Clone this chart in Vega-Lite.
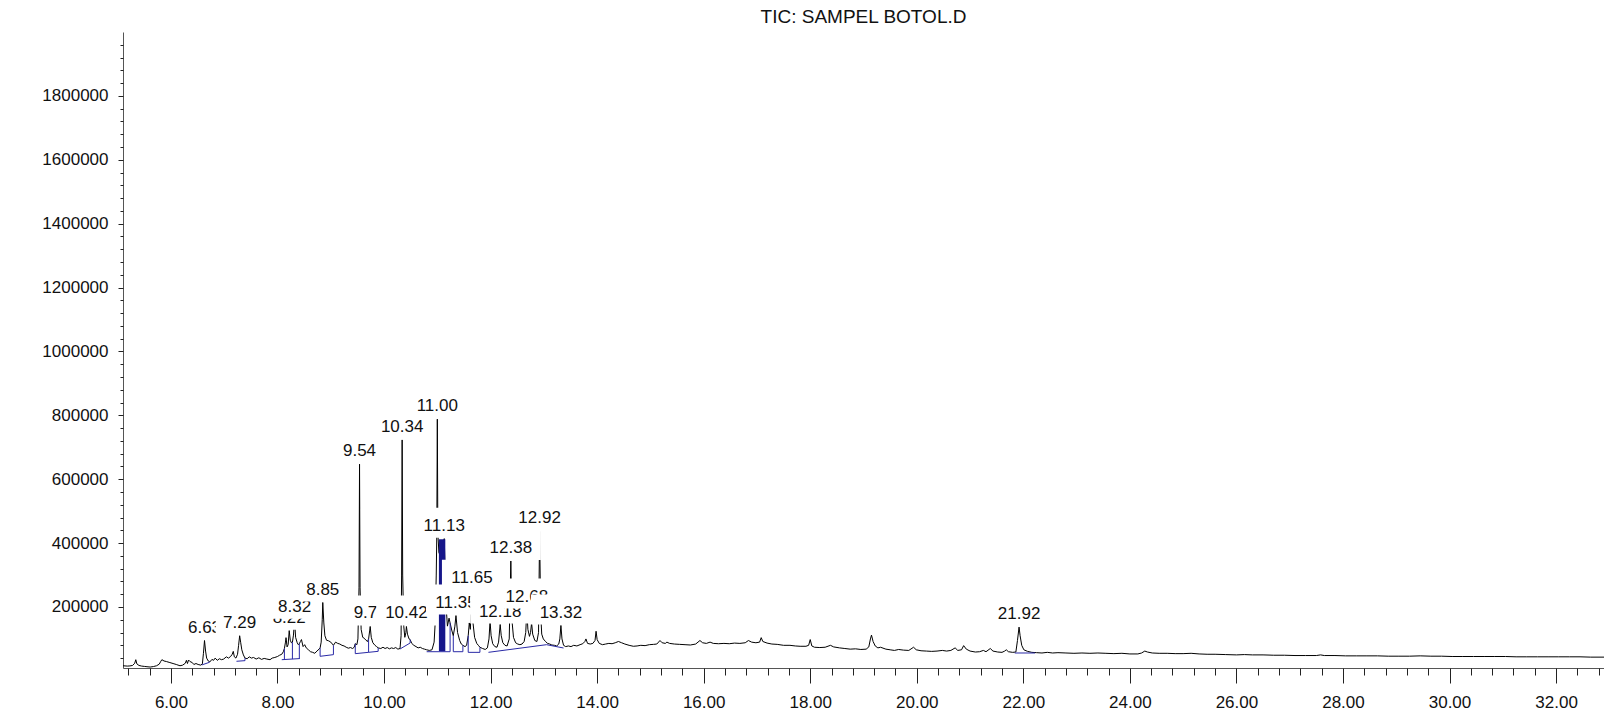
{
"$schema": "https://vega.github.io/schema/vega-lite/v6.json",
"width": 1481, "height": 636,
"autosize": {"type": "none"},
"padding": {"left": 123, "top": 32, "right": 0, "bottom": 49},
"background": "white",
"title": {"text": "TIC: SAMPEL BOTOL.D", "fontSize": 19, "font": "Liberation Sans", "fontWeight": "normal", "color": "#111", "anchor": "middle", "frame": "group", "offset": 9, "baseline": "alphabetic", "dy": 19},
"config": {"view": {"stroke": null}, "axis": {"grid": false}},
"datasets": {
"trace": [
{"t":5.10,"v":16000},{"t":5.18,"v":15000},{"t":5.23,"v":15500},{"t":5.28,"v":17000},{"t":5.32,"v":24000},{"t":5.34,"v":35000},{"t":5.36,"v":22000},{"t":5.40,"v":17000},{"t":5.45,"v":15000},{"t":5.50,"v":14000},{"t":5.55,"v":13000},{"t":5.61,"v":12000},{"t":5.67,"v":13500},{"t":5.73,"v":16000},{"t":5.78,"v":21000},{"t":5.81,"v":30000},{"t":5.83,"v":35000},{"t":5.87,"v":31000},{"t":5.92,"v":29000},{"t":5.98,"v":26000},{"t":6.04,"v":23000},{"t":6.10,"v":20000},{"t":6.17,"v":16000},{"t":6.22,"v":18000},{"t":6.27,"v":24000},{"t":6.29,"v":33000},{"t":6.31,"v":23000},{"t":6.33,"v":34000},{"t":6.36,"v":29000},{"t":6.40,"v":26000},{"t":6.43,"v":20000},{"t":6.47,"v":23000},{"t":6.51,"v":20000},{"t":6.56,"v":18000},{"t":6.59,"v":22000},{"t":6.61,"v":55000},{"t":6.63,"v":95000},{"t":6.65,"v":62000},{"t":6.67,"v":40000},{"t":6.70,"v":31000},{"t":6.73,"v":28000},{"t":6.77,"v":36000},{"t":6.80,"v":33000},{"t":6.83,"v":40000},{"t":6.87,"v":33000},{"t":6.91,"v":38000},{"t":6.95,"v":35000},{"t":6.99,"v":37000},{"t":7.04,"v":44000},{"t":7.08,"v":40000},{"t":7.12,"v":45000},{"t":7.15,"v":52000},{"t":7.17,"v":61000},{"t":7.19,"v":44000},{"t":7.22,"v":40000},{"t":7.25,"v":52000},{"t":7.27,"v":80000},{"t":7.29,"v":110000},{"t":7.31,"v":88000},{"t":7.33,"v":66000},{"t":7.36,"v":50000},{"t":7.39,"v":40000},{"t":7.43,"v":38000},{"t":7.47,"v":44000},{"t":7.51,"v":40000},{"t":7.55,"v":42000},{"t":7.60,"v":37000},{"t":7.65,"v":41000},{"t":7.70,"v":36000},{"t":7.75,"v":39000},{"t":7.80,"v":37000},{"t":7.86,"v":35000},{"t":7.90,"v":40000},{"t":7.95,"v":42000},{"t":8.00,"v":45000},{"t":8.04,"v":49000},{"t":8.08,"v":52000},{"t":8.11,"v":60000},{"t":8.13,"v":70000},{"t":8.15,"v":90000},{"t":8.16,"v":104000},{"t":8.18,"v":75000},{"t":8.20,"v":82000},{"t":8.22,"v":126000},{"t":8.24,"v":96000},{"t":8.26,"v":88000},{"t":8.28,"v":90000},{"t":8.30,"v":112000},{"t":8.32,"v":160000},{"t":8.34,"v":105000},{"t":8.37,"v":88000},{"t":8.39,"v":82000},{"t":8.41,"v":85000},{"t":8.43,"v":92000},{"t":8.45,"v":98000},{"t":8.48,"v":76000},{"t":8.51,"v":82000},{"t":8.54,"v":72000},{"t":8.58,"v":66000},{"t":8.62,"v":60000},{"t":8.66,"v":58000},{"t":8.70,"v":55000},{"t":8.74,"v":62000},{"t":8.78,"v":68000},{"t":8.80,"v":72000},{"t":8.82,"v":90000},{"t":8.84,"v":160000},{"t":8.85,"v":214000},{"t":8.87,"v":150000},{"t":8.89,"v":110000},{"t":8.92,"v":96000},{"t":8.96,"v":94000},{"t":9.00,"v":90000},{"t":9.03,"v":84000},{"t":9.05,"v":80000},{"t":9.09,"v":90000},{"t":9.13,"v":86000},{"t":9.17,"v":84000},{"t":9.21,"v":80000},{"t":9.25,"v":78000},{"t":9.29,"v":74000},{"t":9.33,"v":71000},{"t":9.37,"v":73000},{"t":9.41,"v":70000},{"t":9.44,"v":74000},{"t":9.46,"v":85000},{"t":9.49,"v":82000},{"t":9.51,"v":100000},{"t":9.53,"v":260000},{"t":9.54,"v":647000},{"t":9.55,"v":260000},{"t":9.57,"v":130000},{"t":9.60,"v":105000},{"t":9.63,"v":102000},{"t":9.66,"v":96000},{"t":9.69,"v":92000},{"t":9.71,"v":100000},{"t":9.73,"v":125000},{"t":9.74,"v":139000},{"t":9.76,"v":105000},{"t":9.79,"v":88000},{"t":9.83,"v":80000},{"t":9.86,"v":76000},{"t":9.89,"v":72000},{"t":9.94,"v":70000},{"t":9.98,"v":74000},{"t":10.02,"v":70000},{"t":10.06,"v":73000},{"t":10.10,"v":69000},{"t":10.14,"v":72000},{"t":10.18,"v":70000},{"t":10.22,"v":73000},{"t":10.26,"v":68000},{"t":10.30,"v":70000},{"t":10.32,"v":110000},{"t":10.33,"v":300000},{"t":10.34,"v":723000},{"t":10.35,"v":300000},{"t":10.37,"v":140000},{"t":10.39,"v":105000},{"t":10.41,"v":120000},{"t":10.42,"v":139000},{"t":10.44,"v":115000},{"t":10.47,"v":100000},{"t":10.49,"v":98000},{"t":10.52,"v":86000},{"t":10.56,"v":80000},{"t":10.60,"v":76000},{"t":10.64,"v":72000},{"t":10.68,"v":74000},{"t":10.72,"v":70000},{"t":10.76,"v":68000},{"t":10.80,"v":66000},{"t":10.85,"v":64000},{"t":10.90,"v":66000},{"t":10.94,"v":90000},{"t":10.96,"v":150000},{"t":10.98,"v":300000},{"t":10.99,"v":420000},{"t":11.00,"v":788000},{"t":11.01,"v":430000},{"t":11.03,"v":370000},{"t":11.06,"v":360000},{"t":11.09,"v":385000},{"t":11.12,"v":405000},{"t":11.13,"v":414000},{"t":11.15,"v":300000},{"t":11.17,"v":190000},{"t":11.19,"v":140000},{"t":11.22,"v":165000},{"t":11.24,"v":150000},{"t":11.27,"v":128000},{"t":11.30,"v":110000},{"t":11.33,"v":140000},{"t":11.35,"v":173000},{"t":11.38,"v":120000},{"t":11.42,"v":95000},{"t":11.45,"v":84000},{"t":11.48,"v":80000},{"t":11.52,"v":76000},{"t":11.55,"v":80000},{"t":11.58,"v":110000},{"t":11.60,"v":150000},{"t":11.62,"v":130000},{"t":11.65,"v":251000},{"t":11.67,"v":150000},{"t":11.70,"v":105000},{"t":11.74,"v":86000},{"t":11.77,"v":80000},{"t":11.80,"v":74000},{"t":11.85,"v":70000},{"t":11.90,"v":67000},{"t":11.94,"v":72000},{"t":11.97,"v":100000},{"t":11.99,"v":155000},{"t":12.01,"v":110000},{"t":12.04,"v":85000},{"t":12.08,"v":76000},{"t":12.12,"v":74000},{"t":12.15,"v":90000},{"t":12.18,"v":145000},{"t":12.20,"v":110000},{"t":12.23,"v":88000},{"t":12.27,"v":80000},{"t":12.31,"v":78000},{"t":12.35,"v":100000},{"t":12.38,"v":344000},{"t":12.40,"v":160000},{"t":12.43,"v":105000},{"t":12.47,"v":88000},{"t":12.51,"v":84000},{"t":12.55,"v":82000},{"t":12.59,"v":84000},{"t":12.63,"v":92000},{"t":12.66,"v":120000},{"t":12.68,"v":192000},{"t":12.70,"v":130000},{"t":12.73,"v":108000},{"t":12.75,"v":120000},{"t":12.77,"v":150000},{"t":12.79,"v":115000},{"t":12.83,"v":95000},{"t":12.87,"v":92000},{"t":12.90,"v":120000},{"t":12.92,"v":437000},{"t":12.94,"v":180000},{"t":12.96,"v":115000},{"t":12.99,"v":100000},{"t":13.03,"v":92000},{"t":13.07,"v":86000},{"t":13.11,"v":84000},{"t":13.15,"v":81000},{"t":13.20,"v":80000},{"t":13.24,"v":78000},{"t":13.28,"v":84000},{"t":13.30,"v":100000},{"t":13.32,"v":142000},{"t":13.34,"v":100000},{"t":13.37,"v":80000},{"t":13.41,"v":76000},{"t":13.46,"v":78000},{"t":13.51,"v":76000},{"t":13.56,"v":80000},{"t":13.62,"v":78000},{"t":13.68,"v":82000},{"t":13.73,"v":85000},{"t":13.77,"v":92000},{"t":13.79,"v":100000},{"t":13.82,"v":86000},{"t":13.87,"v":84000},{"t":13.92,"v":86000},{"t":13.96,"v":95000},{"t":13.98,"v":124000},{"t":14.00,"v":98000},{"t":14.04,"v":86000},{"t":14.10,"v":82000},{"t":14.16,"v":84000},{"t":14.22,"v":86000},{"t":14.28,"v":85000},{"t":14.34,"v":88000},{"t":14.40,"v":92000},{"t":14.46,"v":88000},{"t":14.52,"v":84000},{"t":14.60,"v":80000},{"t":14.68,"v":77000},{"t":14.75,"v":78000},{"t":14.82,"v":80000},{"t":14.90,"v":79000},{"t":14.98,"v":82000},{"t":15.06,"v":83000},{"t":15.12,"v":84000},{"t":15.18,"v":95000},{"t":15.22,"v":88000},{"t":15.28,"v":86000},{"t":15.31,"v":90000},{"t":15.36,"v":86000},{"t":15.45,"v":84000},{"t":15.55,"v":83000},{"t":15.65,"v":82000},{"t":15.75,"v":81000},{"t":15.85,"v":84000},{"t":15.93,"v":95000},{"t":15.98,"v":88000},{"t":16.05,"v":86000},{"t":16.12,"v":90000},{"t":16.18,"v":86000},{"t":16.28,"v":85000},{"t":16.38,"v":86000},{"t":16.48,"v":85000},{"t":16.58,"v":87000},{"t":16.68,"v":86000},{"t":16.78,"v":88000},{"t":16.84,"v":95000},{"t":16.90,"v":90000},{"t":16.98,"v":88000},{"t":17.05,"v":90000},{"t":17.08,"v":104000},{"t":17.11,"v":92000},{"t":17.19,"v":87000},{"t":17.28,"v":84000},{"t":17.38,"v":83000},{"t":17.50,"v":80000},{"t":17.62,"v":80000},{"t":17.72,"v":78000},{"t":17.81,"v":77000},{"t":17.92,"v":77000},{"t":17.97,"v":80000},{"t":18.00,"v":98000},{"t":18.03,"v":78000},{"t":18.08,"v":74000},{"t":18.18,"v":73000},{"t":18.28,"v":74000},{"t":18.38,"v":80000},{"t":18.44,"v":75000},{"t":18.55,"v":72000},{"t":18.65,"v":70000},{"t":18.75,"v":68000},{"t":18.85,"v":69000},{"t":18.95,"v":67000},{"t":19.05,"v":68000},{"t":19.10,"v":75000},{"t":19.13,"v":100000},{"t":19.15,"v":112000},{"t":19.18,"v":92000},{"t":19.22,"v":78000},{"t":19.27,"v":72000},{"t":19.32,"v":74000},{"t":19.42,"v":68000},{"t":19.50,"v":66000},{"t":19.58,"v":64000},{"t":19.66,"v":67000},{"t":19.75,"v":65000},{"t":19.85,"v":64000},{"t":19.94,"v":74000},{"t":19.99,"v":66000},{"t":20.08,"v":63000},{"t":20.18,"v":62000},{"t":20.28,"v":61000},{"t":20.38,"v":62000},{"t":20.48,"v":64000},{"t":20.56,"v":62000},{"t":20.64,"v":64000},{"t":20.72,"v":72000},{"t":20.77,"v":64000},{"t":20.84,"v":66000},{"t":20.88,"v":79000},{"t":20.93,"v":68000},{"t":21.00,"v":62000},{"t":21.10,"v":59000},{"t":21.18,"v":60000},{"t":21.25,"v":64000},{"t":21.30,"v":60000},{"t":21.38,"v":70000},{"t":21.43,"v":62000},{"t":21.52,"v":59000},{"t":21.60,"v":58000},{"t":21.65,"v":62000},{"t":21.68,"v":66000},{"t":21.72,"v":60000},{"t":21.80,"v":58000},{"t":21.86,"v":59000},{"t":21.89,"v":95000},{"t":21.92,"v":137000},{"t":21.94,"v":110000},{"t":21.97,"v":80000},{"t":22.01,"v":66000},{"t":22.08,"v":61000},{"t":22.16,"v":58000},{"t":22.25,"v":57000},{"t":22.35,"v":56000},{"t":22.45,"v":58000},{"t":22.55,"v":56000},{"t":22.65,"v":57000},{"t":22.80,"v":56000},{"t":22.95,"v":55000},{"t":23.10,"v":56000},{"t":23.25,"v":55000},{"t":23.40,"v":56000},{"t":23.55,"v":55000},{"t":23.70,"v":54000},{"t":23.85,"v":55000},{"t":24.00,"v":53000},{"t":24.15,"v":53000},{"t":24.22,"v":56000},{"t":24.28,"v":62000},{"t":24.33,"v":59000},{"t":24.42,"v":56000},{"t":24.55,"v":55000},{"t":24.70,"v":55000},{"t":24.85,"v":54000},{"t":25.00,"v":54000},{"t":25.15,"v":55000},{"t":25.30,"v":53000},{"t":25.45,"v":52000},{"t":25.60,"v":52000},{"t":25.80,"v":51000},{"t":26.00,"v":50000},{"t":26.15,"v":51000},{"t":26.30,"v":50000},{"t":26.50,"v":50000},{"t":26.70,"v":49000},{"t":26.90,"v":49000},{"t":27.10,"v":48000},{"t":27.30,"v":48000},{"t":27.50,"v":48000},{"t":27.58,"v":50000},{"t":27.65,"v":48000},{"t":27.85,"v":48000},{"t":28.05,"v":47000},{"t":28.25,"v":47000},{"t":28.45,"v":47000},{"t":28.65,"v":47000},{"t":28.85,"v":46000},{"t":29.05,"v":46000},{"t":29.25,"v":46000},{"t":29.45,"v":47000},{"t":29.65,"v":46000},{"t":29.85,"v":46000},{"t":30.05,"v":45000},{"t":30.25,"v":45000},{"t":30.45,"v":45000},{"t":30.65,"v":45000},{"t":30.85,"v":45000},{"t":31.05,"v":45000},{"t":31.25,"v":44000},{"t":31.45,"v":44000},{"t":31.65,"v":44000},{"t":31.85,"v":44000},{"t":32.05,"v":44000},{"t":32.25,"v":44000},{"t":32.45,"v":44000},{"t":32.65,"v":43000},{"t":32.90,"v":43000}
],
"fill": [{"t":11.03,"v":61200,"t2":11.15,"v2":412000}],
"base": [
{"t":6.58,"v":18600,"t2":6.72,"v2":26700},{"t":6.72,"v":26700,"t2":6.72,"v2":29000},
{"t":7.23,"v":30000,"t2":7.39,"v2":32000},{"t":7.39,"v":32000,"t2":7.39,"v2":40000},
{"t":8.08,"v":35000,"t2":8.42,"v2":38500},{"t":8.13,"v":35500,"t2":8.13,"v2":70000},{"t":8.28,"v":37000,"t2":8.28,"v2":90000},{"t":8.41,"v":38400,"t2":8.41,"v2":85000},
{"t":8.80,"v":45600,"t2":9.05,"v2":50800},{"t":8.80,"v":45600,"t2":8.80,"v2":72000},{"t":9.05,"v":50800,"t2":9.05,"v2":80000},
{"t":9.46,"v":53900,"t2":9.71,"v2":58100},{"t":9.46,"v":53900,"t2":9.46,"v2":85000},{"t":9.71,"v":58100,"t2":9.71,"v2":100000},{"t":9.71,"v":58100,"t2":9.89,"v2":61200},{"t":9.89,"v":61200,"t2":9.89,"v2":72000},
{"t":10.30,"v":68500,"t2":10.49,"v2":87300},{"t":10.49,"v":87300,"t2":10.49,"v2":98000},
{"t":10.80,"v":60000,"t2":11.24,"v2":60000},{"t":11.24,"v":60000,"t2":11.24,"v2":150000},
{"t":11.30,"v":60000,"t2":11.48,"v2":60000},{"t":11.30,"v":60000,"t2":11.30,"v2":110000},{"t":11.48,"v":60000,"t2":11.48,"v2":80000},
{"t":11.58,"v":58000,"t2":11.80,"v2":58000},{"t":11.58,"v":58000,"t2":11.58,"v2":110000},{"t":11.80,"v":58000,"t2":11.80,"v2":74000},
{"t":11.96,"v":58100,"t2":13.05,"v2":82000},{"t":13.05,"v":82000,"t2":13.37,"v2":71600},
{"t":21.84,"v":56000,"t2":22.22,"v2":56000}
],
"labels": [
{"label":"6.63","t":6.63,"v":95000},{"label":"7.29","t":7.29,"v":110000},{"label":"8.22","t":8.22,"v":126000},{"label":"8.32","t":8.32,"v":160000},{"label":"8.85","t":8.85,"v":214000},{"label":"9.54","t":9.54,"v":647000},{"label":"9.74","t":9.74,"v":139000},{"label":"10.34","t":10.34,"v":723000},{"label":"10.42","t":10.42,"v":139000},{"label":"11.00","t":11.00,"v":788000},{"label":"11.13","t":11.13,"v":414000},{"label":"11.35","t":11.35,"v":173000},{"label":"11.65","t":11.65,"v":251000},{"label":"12.18","t":12.18,"v":145000},{"label":"12.38","t":12.38,"v":344000},{"label":"12.68","t":12.68,"v":192000},{"label":"12.92","t":12.92,"v":437000},{"label":"13.32","t":13.32,"v":142000},{"label":"21.92","t":21.92,"v":137000}
]
},
"encoding": {
"x": {"field": "t", "type": "quantitative", "scale": {"domain": [5.1, 32.9], "nice": false, "zero": false}, "axis": null},
"y": {"field": "v", "type": "quantitative", "scale": {"domain": [9000, 2000000], "nice": false, "zero": false}, "axis": null}
},
"resolve": {"axis": {"x": "independent", "y": "independent"}},
"layer": [
{"data": {"name": "trace"}, "mark": {"type": "line", "color": "#000000", "strokeWidth": 1},
 "encoding": {
  "x": {"field": "t", "type": "quantitative", "scale": {"domain": [5.1, 32.9], "nice": false, "zero": false},
        "axis": {"orient": "bottom", "values": [6,8,10,12,14,16,18,20,22,24,26,28,30,32], "format": ".2f", "title": null, "grid": false, "tickSize": 15, "tickColor": "#222", "tickWidth": 1, "domainColor": "#555", "domainWidth": 1, "labelPadding": 11, "labelFontSize": 17, "labelFont": "Liberation Sans", "labelColor": "#111", "labelOverlap": false, "labelFlush": false}},
  "y": {"field": "v", "type": "quantitative", "scale": {"domain": [9000, 2000000], "nice": false, "zero": false},
        "axis": {"orient": "left", "values": [200000,400000,600000,800000,1000000,1200000,1400000,1600000,1800000], "format": "d", "title": null, "grid": false, "tickSize": 5, "tickColor": "#222", "tickWidth": 1, "domainColor": "#555", "domainWidth": 1, "labelPadding": 10, "labelFontSize": 17, "labelFont": "Liberation Sans", "labelColor": "#111", "labelOverlap": false}}
 }},
{"data": {"name": "fill"}, "mark": {"type": "rect", "color": "#16168a"}, "encoding": {"x2": {"field": "t2"}, "y2": {"field": "v2"}}},
{"data": {"name": "base"}, "mark": {"type": "rule", "color": "#2a2aa6", "strokeWidth": 1},
 "encoding": {
  "x": {"field": "t", "type": "quantitative", "scale": {"domain": [5.1, 32.9], "nice": false, "zero": false},
        "axis": {"orient": "bottom", "values": [5.2,5.6,6.0,6.4,6.8,7.2,7.6,8.0,8.4,8.8,9.2,9.6,10.0,10.4,10.8,11.2,11.6,12.0,12.4,12.8,13.2,13.6,14.0,14.4,14.8,15.2,15.6,16.0,16.4,16.8,17.2,17.6,18.0,18.4,18.8,19.2,19.6,20.0,20.4,20.8,21.2,21.6,22.0,22.4,22.8,23.2,23.6,24.0,24.4,24.8,25.2,25.6,26.0,26.4,26.8,27.2,27.6,28.0,28.4,28.8,29.2,29.6,30.0,30.4,30.8,31.2,31.6,32.0,32.4,32.8], "labels": false, "domain": false, "title": null, "grid": false, "tickSize": 7, "tickColor": "#222", "tickWidth": 1}},
  "y": {"field": "v", "type": "quantitative", "scale": {"domain": [9000, 2000000], "nice": false, "zero": false},
        "axis": {"orient": "left", "values": [40000,80000,120000,160000,200000,240000,280000,320000,360000,400000,440000,480000,520000,560000,600000,640000,680000,720000,760000,800000,840000,880000,920000,960000,1000000,1040000,1080000,1120000,1160000,1200000,1240000,1280000,1320000,1360000,1400000,1440000,1480000,1520000,1560000,1600000,1640000,1680000,1720000,1760000,1800000,1840000,1880000,1920000,1960000], "labels": false, "domain": false, "title": null, "grid": false, "tickSize": 3, "tickColor": "#222", "tickWidth": 1}},
  "x2": {"field": "t2"}, "y2": {"field": "v2"}
 }},
{"data": {"name": "labels"}, "transform": [{"filter": "datum.label == '6.63'"}], "mark": {"type": "rect", "fill": "white", "xOffset": -24, "x2Offset": 24, "yOffset": -31, "y2Offset": -1}, "encoding": {"x2": {"field": "t"}, "y2": {"field": "v"}}},
{"data": {"name": "labels"}, "transform": [{"filter": "datum.label == '6.63'"}], "mark": {"type": "text", "dy": -8, "baseline": "alphabetic", "align": "center", "fontSize": 17, "font": "Liberation Sans", "fill": "#111"}, "encoding": {"text": {"field": "label"}}},
{"data": {"name": "labels"}, "transform": [{"filter": "datum.label == '7.29'"}], "mark": {"type": "rect", "fill": "white", "xOffset": -24, "x2Offset": 24, "yOffset": -31, "y2Offset": -1}, "encoding": {"x2": {"field": "t"}, "y2": {"field": "v"}}},
{"data": {"name": "labels"}, "transform": [{"filter": "datum.label == '7.29'"}], "mark": {"type": "text", "dy": -8, "baseline": "alphabetic", "align": "center", "fontSize": 17, "font": "Liberation Sans", "fill": "#111"}, "encoding": {"text": {"field": "label"}}},
{"data": {"name": "labels"}, "transform": [{"filter": "datum.label == '8.22'"}], "mark": {"type": "rect", "fill": "white", "xOffset": -24, "x2Offset": 24, "yOffset": -31, "y2Offset": -1}, "encoding": {"x2": {"field": "t"}, "y2": {"field": "v"}}},
{"data": {"name": "labels"}, "transform": [{"filter": "datum.label == '8.22'"}], "mark": {"type": "text", "dy": -8, "baseline": "alphabetic", "align": "center", "fontSize": 17, "font": "Liberation Sans", "fill": "#111"}, "encoding": {"text": {"field": "label"}}},
{"data": {"name": "labels"}, "transform": [{"filter": "datum.label == '8.32'"}], "mark": {"type": "rect", "fill": "white", "xOffset": -24, "x2Offset": 24, "yOffset": -31, "y2Offset": -1}, "encoding": {"x2": {"field": "t"}, "y2": {"field": "v"}}},
{"data": {"name": "labels"}, "transform": [{"filter": "datum.label == '8.32'"}], "mark": {"type": "text", "dy": -8, "baseline": "alphabetic", "align": "center", "fontSize": 17, "font": "Liberation Sans", "fill": "#111"}, "encoding": {"text": {"field": "label"}}},
{"data": {"name": "labels"}, "transform": [{"filter": "datum.label == '8.85'"}], "mark": {"type": "rect", "fill": "white", "xOffset": -24, "x2Offset": 24, "yOffset": -31, "y2Offset": -1}, "encoding": {"x2": {"field": "t"}, "y2": {"field": "v"}}},
{"data": {"name": "labels"}, "transform": [{"filter": "datum.label == '8.85'"}], "mark": {"type": "text", "dy": -8, "baseline": "alphabetic", "align": "center", "fontSize": 17, "font": "Liberation Sans", "fill": "#111"}, "encoding": {"text": {"field": "label"}}},
{"data": {"name": "labels"}, "transform": [{"filter": "datum.label == '9.54'"}], "mark": {"type": "rect", "fill": "white", "xOffset": -24, "x2Offset": 24, "yOffset": -31, "y2Offset": -1}, "encoding": {"x2": {"field": "t"}, "y2": {"field": "v"}}},
{"data": {"name": "labels"}, "transform": [{"filter": "datum.label == '9.54'"}], "mark": {"type": "text", "dy": -8, "baseline": "alphabetic", "align": "center", "fontSize": 17, "font": "Liberation Sans", "fill": "#111"}, "encoding": {"text": {"field": "label"}}},
{"data": {"name": "labels"}, "transform": [{"filter": "datum.label == '9.74'"}], "mark": {"type": "rect", "fill": "white", "xOffset": -24, "x2Offset": 24, "yOffset": -31, "y2Offset": -1}, "encoding": {"x2": {"field": "t"}, "y2": {"field": "v"}}},
{"data": {"name": "labels"}, "transform": [{"filter": "datum.label == '9.74'"}], "mark": {"type": "text", "dy": -8, "baseline": "alphabetic", "align": "center", "fontSize": 17, "font": "Liberation Sans", "fill": "#111"}, "encoding": {"text": {"field": "label"}}},
{"data": {"name": "labels"}, "transform": [{"filter": "datum.label == '10.34'"}], "mark": {"type": "rect", "fill": "white", "xOffset": -30, "x2Offset": 30, "yOffset": -31, "y2Offset": -1}, "encoding": {"x2": {"field": "t"}, "y2": {"field": "v"}}},
{"data": {"name": "labels"}, "transform": [{"filter": "datum.label == '10.34'"}], "mark": {"type": "text", "dy": -8, "baseline": "alphabetic", "align": "center", "fontSize": 17, "font": "Liberation Sans", "fill": "#111"}, "encoding": {"text": {"field": "label"}}},
{"data": {"name": "labels"}, "transform": [{"filter": "datum.label == '10.42'"}], "mark": {"type": "rect", "fill": "white", "xOffset": -30, "x2Offset": 30, "yOffset": -31, "y2Offset": -1}, "encoding": {"x2": {"field": "t"}, "y2": {"field": "v"}}},
{"data": {"name": "labels"}, "transform": [{"filter": "datum.label == '10.42'"}], "mark": {"type": "text", "dy": -8, "baseline": "alphabetic", "align": "center", "fontSize": 17, "font": "Liberation Sans", "fill": "#111"}, "encoding": {"text": {"field": "label"}}},
{"data": {"name": "labels"}, "transform": [{"filter": "datum.label == '11.00'"}], "mark": {"type": "rect", "fill": "white", "xOffset": -30, "x2Offset": 30, "yOffset": -31, "y2Offset": -1}, "encoding": {"x2": {"field": "t"}, "y2": {"field": "v"}}},
{"data": {"name": "labels"}, "transform": [{"filter": "datum.label == '11.00'"}], "mark": {"type": "text", "dy": -8, "baseline": "alphabetic", "align": "center", "fontSize": 17, "font": "Liberation Sans", "fill": "#111"}, "encoding": {"text": {"field": "label"}}},
{"data": {"name": "labels"}, "transform": [{"filter": "datum.label == '11.13'"}], "mark": {"type": "rect", "fill": "white", "xOffset": -30, "x2Offset": 30, "yOffset": -31, "y2Offset": -1}, "encoding": {"x2": {"field": "t"}, "y2": {"field": "v"}}},
{"data": {"name": "labels"}, "transform": [{"filter": "datum.label == '11.13'"}], "mark": {"type": "text", "dy": -8, "baseline": "alphabetic", "align": "center", "fontSize": 17, "font": "Liberation Sans", "fill": "#111"}, "encoding": {"text": {"field": "label"}}},
{"data": {"name": "labels"}, "transform": [{"filter": "datum.label == '11.35'"}], "mark": {"type": "rect", "fill": "white", "xOffset": -30, "x2Offset": 30, "yOffset": -31, "y2Offset": -1}, "encoding": {"x2": {"field": "t"}, "y2": {"field": "v"}}},
{"data": {"name": "labels"}, "transform": [{"filter": "datum.label == '11.35'"}], "mark": {"type": "text", "dy": -8, "baseline": "alphabetic", "align": "center", "fontSize": 17, "font": "Liberation Sans", "fill": "#111"}, "encoding": {"text": {"field": "label"}}},
{"data": {"name": "labels"}, "transform": [{"filter": "datum.label == '11.65'"}], "mark": {"type": "rect", "fill": "white", "xOffset": -30, "x2Offset": 30, "yOffset": -31, "y2Offset": -1}, "encoding": {"x2": {"field": "t"}, "y2": {"field": "v"}}},
{"data": {"name": "labels"}, "transform": [{"filter": "datum.label == '11.65'"}], "mark": {"type": "text", "dy": -8, "baseline": "alphabetic", "align": "center", "fontSize": 17, "font": "Liberation Sans", "fill": "#111"}, "encoding": {"text": {"field": "label"}}},
{"data": {"name": "labels"}, "transform": [{"filter": "datum.label == '12.18'"}], "mark": {"type": "rect", "fill": "white", "xOffset": -30, "x2Offset": 30, "yOffset": -31, "y2Offset": -1}, "encoding": {"x2": {"field": "t"}, "y2": {"field": "v"}}},
{"data": {"name": "labels"}, "transform": [{"filter": "datum.label == '12.18'"}], "mark": {"type": "text", "dy": -8, "baseline": "alphabetic", "align": "center", "fontSize": 17, "font": "Liberation Sans", "fill": "#111"}, "encoding": {"text": {"field": "label"}}},
{"data": {"name": "labels"}, "transform": [{"filter": "datum.label == '12.38'"}], "mark": {"type": "rect", "fill": "white", "xOffset": -30, "x2Offset": 30, "yOffset": -31, "y2Offset": -1}, "encoding": {"x2": {"field": "t"}, "y2": {"field": "v"}}},
{"data": {"name": "labels"}, "transform": [{"filter": "datum.label == '12.38'"}], "mark": {"type": "text", "dy": -8, "baseline": "alphabetic", "align": "center", "fontSize": 17, "font": "Liberation Sans", "fill": "#111"}, "encoding": {"text": {"field": "label"}}},
{"data": {"name": "labels"}, "transform": [{"filter": "datum.label == '12.68'"}], "mark": {"type": "rect", "fill": "white", "xOffset": -30, "x2Offset": 30, "yOffset": -31, "y2Offset": -1}, "encoding": {"x2": {"field": "t"}, "y2": {"field": "v"}}},
{"data": {"name": "labels"}, "transform": [{"filter": "datum.label == '12.68'"}], "mark": {"type": "text", "dy": -8, "baseline": "alphabetic", "align": "center", "fontSize": 17, "font": "Liberation Sans", "fill": "#111"}, "encoding": {"text": {"field": "label"}}},
{"data": {"name": "labels"}, "transform": [{"filter": "datum.label == '12.92'"}], "mark": {"type": "rect", "fill": "white", "xOffset": -30, "x2Offset": 30, "yOffset": -31, "y2Offset": -1}, "encoding": {"x2": {"field": "t"}, "y2": {"field": "v"}}},
{"data": {"name": "labels"}, "transform": [{"filter": "datum.label == '12.92'"}], "mark": {"type": "text", "dy": -8, "baseline": "alphabetic", "align": "center", "fontSize": 17, "font": "Liberation Sans", "fill": "#111"}, "encoding": {"text": {"field": "label"}}},
{"data": {"name": "labels"}, "transform": [{"filter": "datum.label == '13.32'"}], "mark": {"type": "rect", "fill": "white", "xOffset": -30, "x2Offset": 30, "yOffset": -31, "y2Offset": -1}, "encoding": {"x2": {"field": "t"}, "y2": {"field": "v"}}},
{"data": {"name": "labels"}, "transform": [{"filter": "datum.label == '13.32'"}], "mark": {"type": "text", "dy": -8, "baseline": "alphabetic", "align": "center", "fontSize": 17, "font": "Liberation Sans", "fill": "#111"}, "encoding": {"text": {"field": "label"}}},
{"data": {"name": "labels"}, "transform": [{"filter": "datum.label == '21.92'"}], "mark": {"type": "rect", "fill": "white", "xOffset": -30, "x2Offset": 30, "yOffset": -31, "y2Offset": -1}, "encoding": {"x2": {"field": "t"}, "y2": {"field": "v"}}},
{"data": {"name": "labels"}, "transform": [{"filter": "datum.label == '21.92'"}], "mark": {"type": "text", "dy": -8, "baseline": "alphabetic", "align": "center", "fontSize": 17, "font": "Liberation Sans", "fill": "#111"}, "encoding": {"text": {"field": "label"}}}
]
}
